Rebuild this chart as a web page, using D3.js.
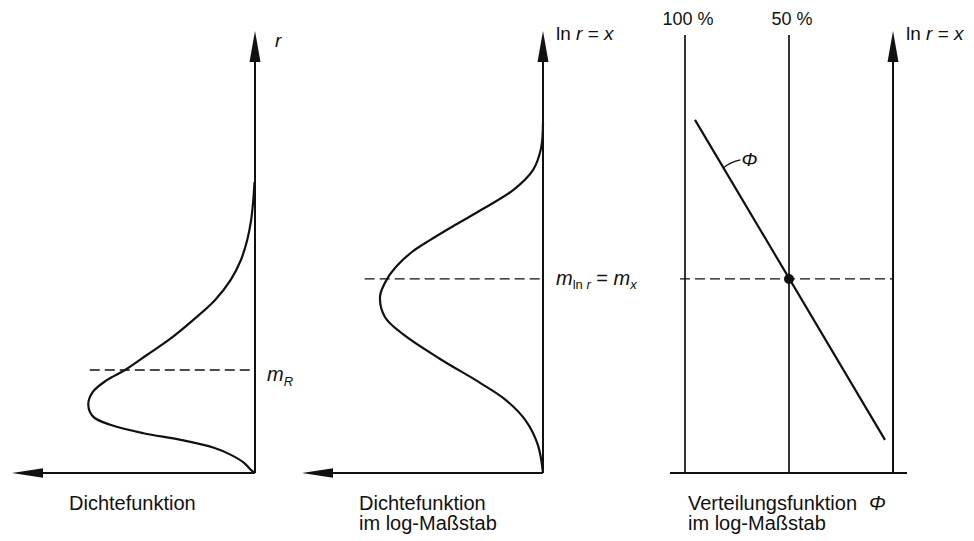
<!DOCTYPE html>
<html>
<head>
<meta charset="utf-8">
<script src="https://cdn.jsdelivr.net/npm/d3@7/dist/d3.min.js"></script>
<style>
  html, body { margin: 0; padding: 0; background: #fff; }
  svg { display: block; }
  text { font-family: "Liberation Sans", Arial, Helvetica, sans-serif; fill: #111; }
  .it { font-style: italic; }
</style>
</head>
<body>
<svg id="chart" width="974" height="541"></svg>
<script>
// ---- Density of r (linear scale): r values and density values ----
const rValues   = [0, 0.07, 0.23, 0.41, 0.57, 0.75, 0.90, 1.09, 1.27, 1.54, 1.83, 2.10, 2.33, 2.67, 3.01, 3.46, 3.91, 4.37, 4.82, 5.27, 5.72, 6.18, 6.58];
const densityR  = [0, 0.017, 0.045, 0.099, 0.169, 0.306, 0.459, 0.595, 0.665, 0.686, 0.668, 0.61, 0.535, 0.445, 0.355, 0.255, 0.165, 0.10, 0.058, 0.032, 0.016, 0.007, 0.002];
const meanR     = 2.33;

// ---- Density of x = ln r ----
const lnValues  = [0, 0.63, 1.18, 1.65, 2.04, 2.58, 3.14, 3.53, 4.00, 4.39, 4.71, 5.00, 5.27, 5.61, 6.00, 6.40, 6.86, 7.35, 7.92];
const densityX  = [0, 0.021, 0.071, 0.154, 0.261, 0.427, 0.581, 0.656, 0.676, 0.647, 0.602, 0.544, 0.469, 0.365, 0.241, 0.124, 0.041, 0.008, 0];
const meanX     = 4.39;

// ---- Distribution function Φ on probability paper ----
const phiPercent = [95.2, 3.85];
const phiLn      = [7.99, 0.75];
const percentTicks  = [100, 50];
const percentLabels = ["100 %", "50 %"];

// ---- Axis extents ----
const axisMax = 10;      // vertical axes run 0..10
const densMax = 1;       // horizontal density axes run 0..1

const svg = d3.select("#chart");
const ink = "#111";

// shared vertical scale (r or ln r)
const yV = d3.scaleLinear().domain([0, axisMax]).range([473, 31]);

// panel scales
const xD1 = d3.scaleLinear().domain([0, densMax]).range([255, 12]);
const xD2 = d3.scaleLinear().domain([0, densMax]).range([543, 302]);
const xP  = d3.scaleLinear().domain([100, 0]).range([685, 893]);

function arrowUp(g, x, yTip) {
  g.append("path")
    .attr("d", `M${x},${yTip} L${x - 5.5},${yTip + 31} L${x + 5.5},${yTip + 31} Z`)
    .attr("fill", ink);
}
function arrowLeft(g, xTip, y) {
  g.append("path")
    .attr("d", `M${xTip},${y} L${xTip + 31},${y - 4.8} L${xTip + 31},${y + 4.8} Z`)
    .attr("fill", ink);
}

const curveLine = xs => d3.line()
  .x(d => xs(d[0]))
  .y(d => yV(d[1]))
  .curve(d3.curveCatmullRom.alpha(0.5));

function meanLine(g, x1, x2, y) {
  g.append("line")
    .attr("x1", x1).attr("x2", x2).attr("y1", y).attr("y2", y)
    .attr("stroke", ink).attr("stroke-width", 1.3).attr("stroke-dasharray", "10,5");
}

function lnLabel(g, x, y) {
  const t = g.append("text").attr("x", x).attr("y", y).attr("font-size", 19);
  t.append("tspan").text("ln");
  t.append("tspan").attr("class", "it").text(" r");
  t.append("tspan").text(" = ");
  t.append("tspan").attr("class", "it").text("x");
}

// ================= Panel 1: Dichtefunktion =================
const p1 = svg.append("g");
p1.append("line")
  .attr("x1", xD1(0)).attr("x2", xD1(densMax) + 20)
  .attr("y1", yV(0)).attr("y2", yV(0))
  .attr("stroke", ink).attr("stroke-width", 2);
arrowLeft(p1, xD1(densMax), yV(0));
p1.append("line")
  .attr("x1", xD1(0)).attr("x2", xD1(0))
  .attr("y1", yV(0)).attr("y2", yV(axisMax) + 20)
  .attr("stroke", ink).attr("stroke-width", 2);
arrowUp(p1, xD1(0), yV(axisMax));
meanLine(p1, xD1(0.68), xD1(0), yV(meanR));
const c1 = rValues.map((r, i) => [densityR[i], r]);
p1.append("path")
  .attr("d", curveLine(xD1)(c1))
  .attr("fill", "none").attr("stroke", ink).attr("stroke-width", 2.2);
p1.append("text").attr("class", "it")
  .attr("x", xD1(0) + 20).attr("y", yV(axisMax) + 16)
  .attr("font-size", 19).text("r");
const mR = p1.append("text").attr("x", xD1(0) + 12).attr("y", yV(meanR) + 11).attr("font-size", 20);
mR.append("tspan").attr("class", "it").text("m");
mR.append("tspan").attr("class", "it").attr("font-size", 13).attr("dy", 5).text("R");
p1.append("text").attr("x", 69).attr("y", 510).attr("font-size", 20).text("Dichtefunktion");

// ================= Panel 2: Dichtefunktion im log-Maßstab =================
const p2 = svg.append("g");
p2.append("line")
  .attr("x1", xD2(0)).attr("x2", xD2(densMax) + 20)
  .attr("y1", yV(0)).attr("y2", yV(0))
  .attr("stroke", ink).attr("stroke-width", 2);
arrowLeft(p2, xD2(densMax), yV(0));
p2.append("line")
  .attr("x1", xD2(0)).attr("x2", xD2(0))
  .attr("y1", yV(0)).attr("y2", yV(axisMax) + 20)
  .attr("stroke", ink).attr("stroke-width", 2);
arrowUp(p2, xD2(0), yV(axisMax));
meanLine(p2, xD2(0.74), xD2(0), yV(meanX));
const c2 = lnValues.map((v, i) => [densityX[i], v]);
p2.append("path")
  .attr("d", curveLine(xD2)(c2))
  .attr("fill", "none").attr("stroke", ink).attr("stroke-width", 2.2);
lnLabel(p2, xD2(0) + 13, yV(axisMax) + 9);
const mX = p2.append("text").attr("x", xD2(0) + 13).attr("y", yV(meanX) + 6).attr("font-size", 20);
mX.append("tspan").attr("class", "it").text("m");
mX.append("tspan").attr("font-size", 13).attr("dy", 4).text("ln");
mX.append("tspan").attr("class", "it").attr("font-size", 13).text(" r");
mX.append("tspan").attr("dy", -4).text(" = ");
mX.append("tspan").attr("class", "it").text("m");
mX.append("tspan").attr("class", "it").attr("font-size", 13).attr("dy", 4).text("x");
p2.append("text").attr("x", 359).attr("y", 510).attr("font-size", 20).text("Dichtefunktion");
p2.append("text").attr("x", 359).attr("y", 530).attr("font-size", 20).text("im log-Maßstab");

// ================= Panel 3: Verteilungsfunktion =================
const p3 = svg.append("g");
p3.append("line")
  .attr("x1", xP(100) - 15).attr("x2", xP(0) + 14)
  .attr("y1", yV(0)).attr("y2", yV(0))
  .attr("stroke", ink).attr("stroke-width", 1.8);
percentTicks.forEach((p, i) => {
  p3.append("line")
    .attr("x1", xP(p)).attr("x2", xP(p))
    .attr("y1", yV(0)).attr("y2", yV(axisMax) + 4)
    .attr("stroke", ink).attr("stroke-width", 1.7);
  p3.append("text")
    .attr("x", xP(p) + 3).attr("y", 25)
    .attr("text-anchor", "middle").attr("font-size", 18)
    .text(percentLabels[i]);
});
p3.append("line")
  .attr("x1", xP(0)).attr("x2", xP(0))
  .attr("y1", yV(0)).attr("y2", yV(axisMax) + 20)
  .attr("stroke", ink).attr("stroke-width", 2);
arrowUp(p3, xP(0), yV(axisMax));
meanLine(p3, xP(100) - 5, xP(0), yV(meanX));
p3.append("line")
  .attr("x1", xP(phiPercent[0])).attr("y1", yV(phiLn[0]))
  .attr("x2", xP(phiPercent[1])).attr("y2", yV(phiLn[1]))
  .attr("stroke", ink).attr("stroke-width", 2.2);
p3.append("circle")
  .attr("cx", xP(50)).attr("cy", yV(meanX)).attr("r", 5)
  .attr("fill", ink);
// Φ leader and label, attached to the line a short way below its top end
const tLead = 0.15;
const leadX = xP(phiPercent[0]) + tLead * (xP(phiPercent[1]) - xP(phiPercent[0]));
const leadY = yV(phiLn[0]) + tLead * (yV(phiLn[1]) - yV(phiLn[0]));
p3.append("path")
  .attr("d", `M${leadX},${leadY} Q${leadX + 7},${leadY - 6} ${leadX + 17},${leadY - 8}`)
  .attr("fill", "none").attr("stroke", ink).attr("stroke-width", 1.2);
p3.append("text").attr("class", "it")
  .attr("x", leadX + 18).attr("y", leadY - 2).attr("font-size", 19).text("Φ");
lnLabel(p3, xP(0) + 13, yV(axisMax) + 9);
const v3 = p3.append("text").attr("x", 688).attr("y", 510).attr("font-size", 20);
v3.append("tspan").text("Verteilungsfunktion");
v3.append("tspan").attr("class", "it").attr("dx", 12).text("Φ");
p3.append("text").attr("x", 688).attr("y", 530).attr("font-size", 20).text("im log-Maßstab");
</script>
</body>
</html>
